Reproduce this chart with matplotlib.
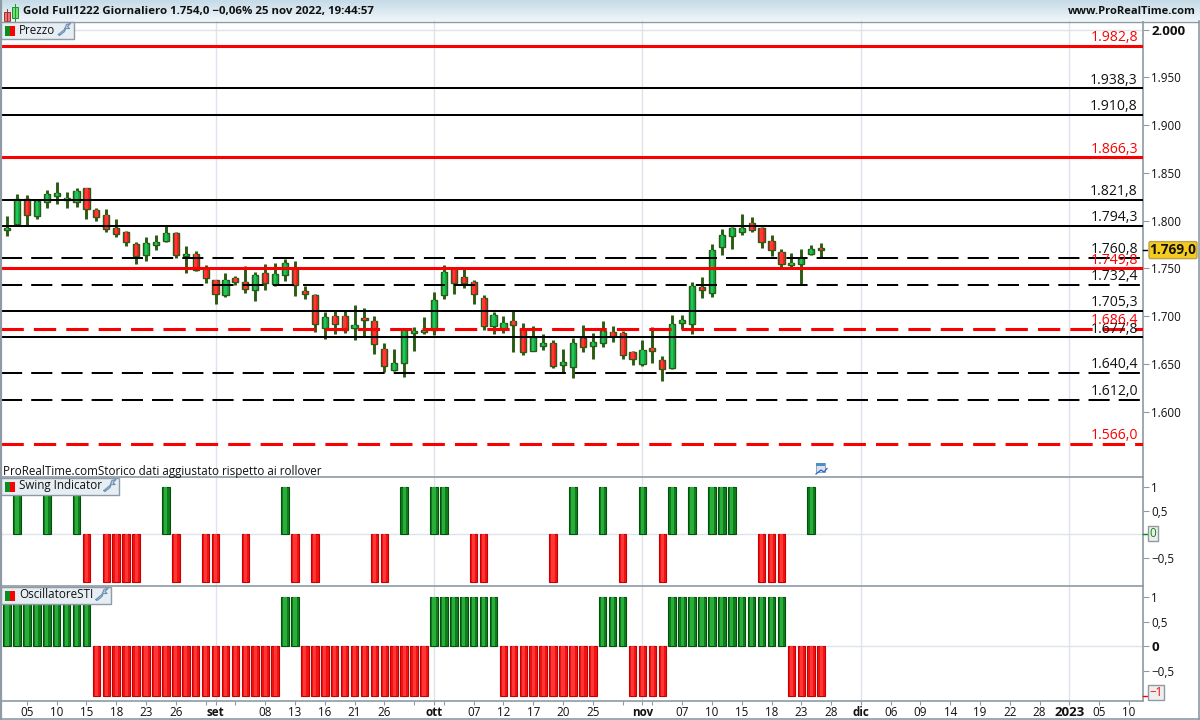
import numpy as np
import matplotlib
matplotlib.use("Agg")
import matplotlib.pyplot as plt
from matplotlib.patches import Rectangle, FancyBboxPatch
from matplotlib.ticker import FixedLocator, FixedFormatter

# candles, one value per trading day
opens = [1790.4, 1796.4, 1822.2, 1804.7, 1819.4, 1826.0, 1821.8, 1819.4, 1834.0, 1811.0,
         1805.8, 1792.2, 1788.0, 1775.4, 1763.9, 1774.7, 1778.6, 1786.9, 1763.2, 1765.0,
         1750.3, 1737.7, 1722.0, 1739.8, 1735.3, 1727.6, 1745.0, 1733.5, 1743.0, 1750.0,
         1725.8, 1721.6, 1687.4, 1699.6, 1699.6, 1687.8, 1697.6, 1694.4, 1665.1, 1643.8,
         1651.1, 1682.5, 1683.5, 1685.3, 1722.0, 1750.0, 1740.8, 1735.6, 1718.8, 1689.9,
         1687.8, 1694.8, 1686.0, 1663.4, 1669.0, 1671.4, 1649.0, 1646.9, 1677.0, 1669.0,
         1672.1, 1683.0, 1681.9, 1662.0, 1649.8, 1666.2, 1653.6, 1645.6, 1693.0, 1692.0,
         1730.0, 1724.5, 1772.6, 1784.2, 1788.3, 1797.1, 1791.8, 1778.2, 1766.7, 1753.8,
         1754.8, 1765.3, 1770.9]
closes = [1792.2, 1822.2, 1806.1, 1820.1, 1827.8, 1828.8, 1823.2, 1830.9, 1812.1, 1804.0,
          1791.1, 1785.9, 1777.5, 1762.9, 1776.5, 1777.5, 1786.9, 1763.9, 1765.0, 1748.2,
          1739.8, 1723.1, 1737.7, 1736.0, 1728.0, 1743.0, 1735.0, 1744.0, 1755.5, 1732.1,
          1723.4, 1692.0, 1698.6, 1692.0, 1685.7, 1690.2, 1695.5, 1670.3, 1648.0, 1650.4,
          1685.3, 1684.3, 1685.0, 1716.4, 1746.1, 1734.9, 1734.9, 1723.4, 1689.5, 1701.1,
          1692.7, 1690.9, 1662.3, 1677.7, 1671.4, 1647.6, 1651.5, 1671.4, 1667.9, 1672.5,
          1684.0, 1679.1, 1659.6, 1655.4, 1664.0, 1663.7, 1644.9, 1691.3, 1695.5, 1731.1,
          1727.3, 1768.8, 1784.5, 1791.8, 1791.8, 1790.4, 1777.9, 1768.8, 1754.1, 1755.5,
          1760.4, 1769.8, 1768.8]
highs = [1804.7, 1827.8, 1826.7, 1822.2, 1832.0, 1840.3, 1829.9, 1834.0, 1834.0, 1813.1,
         1812.0, 1801.6, 1789.0, 1777.5, 1782.7, 1784.8, 1794.3, 1788.0, 1773.3, 1768.1,
         1753.4, 1737.7, 1745.0, 1741.9, 1752.4, 1746.1, 1754.5, 1755.5, 1759.7, 1757.6,
         1731.4, 1723.0, 1704.2, 1705.2, 1705.2, 1711.5, 1708.4, 1700.0, 1671.7, 1665.4,
         1685.3, 1688.5, 1699.0, 1725.1, 1753.4, 1750.0, 1748.9, 1737.7, 1722.0, 1704.2,
         1700.0, 1705.2, 1692.7, 1689.5, 1681.1, 1674.9, 1665.4, 1677.0, 1690.6, 1682.2,
         1694.8, 1689.6, 1684.3, 1663.4, 1674.9, 1688.5, 1658.2, 1701.1, 1701.1, 1735.6,
         1740.9, 1775.4, 1791.1, 1793.2, 1806.8, 1803.7, 1793.2, 1784.9, 1770.2, 1766.0,
         1770.2, 1774.4, 1776.5]
lows = [1783.8, 1795.3, 1795.3, 1801.6, 1813.1, 1817.3, 1813.1, 1814.2, 1801.6, 1799.5,
        1788.0, 1782.7, 1773.3, 1754.5, 1757.6, 1769.1, 1777.5, 1760.8, 1745.0, 1747.1,
        1734.6, 1712.6, 1719.9, 1732.5, 1724.1, 1715.7, 1727.3, 1731.4, 1736.7, 1720.9,
        1717.8, 1683.2, 1675.9, 1681.1, 1682.2, 1674.9, 1678.0, 1660.2, 1641.4, 1642.4,
        1636.1, 1663.4, 1681.1, 1680.1, 1717.8, 1723.0, 1729.3, 1712.6, 1685.3, 1681.1,
        1682.2, 1662.3, 1659.2, 1663.4, 1664.4, 1645.6, 1640.3, 1635.0, 1662.3, 1655.0,
        1667.6, 1672.8, 1655.0, 1648.8, 1647.7, 1650.8, 1632.0, 1644.6, 1686.4, 1681.2,
        1718.9, 1720.0, 1763.9, 1770.2, 1784.9, 1788.0, 1771.2, 1762.9, 1751.4, 1750.3,
        1733.6, 1763.9, 1761.5]

# support / resistance levels
black_solid = [1938.3, 1910.8, 1821.8, 1794.3, 1705.3, 1677.8]
black_dashed = [1760.8, 1732.4, 1640.4, 1612.0]
red_solid = [1982.8, 1866.3, 1749.8]
red_dashed = [1686.4, 1566.0]

# indicators: day index of the non zero bars
swing_up = [1, 4, 7, 16, 28, 40, 43, 44, 57, 60, 64, 67, 69, 71, 72, 73, 81]
swing_down = [8, 10, 11, 12, 13, 17, 20, 21, 24, 29, 31, 37, 38, 47, 48, 55, 62, 66, 76, 77, 78]
sti_up = [0, 1, 2, 3, 4, 5, 6, 7, 8, 28, 29, 43, 44, 45, 46, 47, 48, 49, 60, 61, 62,
          67, 68, 69, 70, 71, 72, 73, 74, 75, 76, 77, 78]
sti_down = [9, 10, 11, 12, 13, 14, 15, 16, 17, 18, 19, 20, 21, 22, 23, 24, 25, 26, 27,
            30, 31, 32, 33, 34, 35, 36, 37, 38, 39, 40, 41, 42,
            50, 51, 52, 53, 54, 55, 56, 57, 58, 59, 63, 64, 65, 66, 79, 80, 81, 82]

# axis labels
x_tick_pos = [2, 5, 8, 11, 14, 17, 20, 21, 23, 26, 29, 32, 35, 38, 41, 43, 44, 47, 50, 53, 56, 59,
              62, 64, 65, 68, 71, 74, 77, 80, 83, 86, 89, 92, 95, 98, 101, 104, 107, 110, 113]
x_tick_txt = ['05', '10', '15', '18', '23', '26', '', 'set', '', '08', '13', '16', '21', '26', '',
              'ott', '', '07', '12', '17', '20', '25', '', 'nov', '', '07', '10', '15', '18', '23',
              '28', 'dic', '06', '09', '14', '19', '22', '28', '2023', '05', '10']
month_pos = [21, 43, 64, 86, 107]
price_ticks = [2000, 1950, 1900, 1850, 1800, 1750, 1700, 1650, 1600]
price_txt = ['2.000', '1.950', '1.900', '1.850', '1.800', '1.750', '1.700', '1.650', '1.600']
last_price = 1769.0

W, H = 1200, 720
GRID = '#dfe2ea'
BORDER = '#8e9aa4'
WICK = '#2b5a12'
FONT = 'Open Sans'
plt.rcParams['font.family'] = FONT

fig = plt.figure(figsize=(W / 100, H / 100), dpi=100, facecolor='white')


def add_panel(top, bottom):
    ax = fig.add_axes([1 / W, 1 - bottom / H, (1143 - 1) / W, (bottom - top) / H])
    ax.set_xlim(-0.61, 114.42)
    ax.yaxis.tick_right()
    for s in ('left', 'top', 'bottom'):
        ax.spines[s].set_visible(False)
    ax.spines['right'].set_color(BORDER)
    ax.spines['right'].set_linewidth(1.2)
    ax.tick_params(axis='y', length=4, width=0.8, color=BORDER, pad=2, labelsize=8.4, labelcolor='#111111')
    ax.set_xticks([])
    for m in month_pos:
        ax.axvline(m, color=GRID, lw=1, zorder=0)
    return ax


def signal_bars(ax, up, down):
    # darker bar with a lighter strip in the middle, like the shaded bars of the platform
    ax.bar(up, 1, width=0.76, color='#0f7d1c', edgecolor='#06500f', linewidth=0.8, zorder=3)
    ax.bar(up, 1, width=0.32, color='#2aae3a', linewidth=0, zorder=4)
    ax.bar(down, -1, width=0.76, color='#f21212', edgecolor='#c40000', linewidth=0.8, zorder=3)
    ax.bar(down, -1, width=0.32, color='#ff3636', linewidth=0, zorder=4)


price_ax = add_panel(21, 477)
swing_ax = add_panel(477, 586)
sti_ax = add_panel(586, 700.7)

# price panel
price_ax.set_ylim(1531.5, 2008.9)
price_ax.set_yticks(price_ticks, price_txt)
price_ax.get_yticklabels()[0].set_fontweight('bold')
price_ax.get_yticklabels()[0].set_fontsize(9.6)
price_ax.axhline(2000, color=GRID, lw=1, zorder=0)

days = np.arange(len(opens))
price_ax.vlines(days, lows, highs, color=WICK, lw=2.1, zorder=2)
body_low = np.minimum(opens, closes)
body_h = np.abs(np.array(closes) - np.array(opens))
colors = ['#12ae45' if c >= o else '#fb1c20' for o, c in zip(opens, closes)]
inner = ['#22c45c' if c >= o else '#ff3838' for o, c in zip(opens, closes)]
price_ax.bar(days, body_h, bottom=body_low, width=0.62, color=colors, edgecolor=WICK, linewidth=1.0, zorder=3)
price_ax.bar(days, body_h, bottom=body_low, width=0.24, color=inner, linewidth=0, zorder=3)

for v in black_solid:
    price_ax.axhline(v, color='black', lw=1.45, zorder=4)
for v in black_dashed:
    price_ax.axhline(v, color='black', lw=1.45, dashes=(10.5, 4.5), dash_capstyle='butt', zorder=4)
for v in red_solid:
    price_ax.axhline(v, color='#fb0000', lw=2.2, zorder=5)
for v in red_dashed:
    price_ax.axhline(v, color='#fb0000', lw=2.2, dashes=(7.3, 3.3), dash_capstyle='butt', zorder=5)

trans = price_ax.get_yaxis_transform()
for v in black_solid + black_dashed:
    price_ax.text(0.9955, v + 0.7, f'{v:,.1f}'.replace(',', '#').replace('.', ',').replace('#', '.'),
                  transform=trans, ha='right', va='bottom', fontsize=10.1, color='#111111', zorder=6)
for v in red_solid + red_dashed:
    price_ax.text(0.9955, v + 0.7, f'{v:,.1f}'.replace(',', '#').replace('.', ',').replace('#', '.'),
                  transform=trans, ha='right', va='bottom', fontsize=10.1, color='#fb0000', zorder=6)

# swing panel
swing_ax.set_ylim(-1.088, 1.208)
swing_ax.set_yticks([1, 0.5, 0, -0.5], ['1', '0,5', '', '\u22120,5'])
swing_ax.axhline(0, color=GRID, lw=1, zorder=0)
signal_bars(swing_ax, swing_up, swing_down)

# sti panel
sti_ax.set_ylim(-1.105, 1.22)
sti_ax.set_yticks([1, 0.5, 0, -0.5], ['1', '0,5', '0', '\u22120,5'])
sti_ax.get_yticklabels()[2].set_fontweight('bold')
sti_ax.get_yticklabels()[2].set_fontsize(9.6)
sti_ax.axhline(0, color=GRID, lw=1, zorder=0)
signal_bars(sti_ax, sti_up, sti_down)

sti_ax.xaxis.set_major_locator(FixedLocator(x_tick_pos))
sti_ax.xaxis.set_major_formatter(FixedFormatter(x_tick_txt))
sti_ax.spines['bottom'].set_visible(True)
sti_ax.spines['bottom'].set_color(BORDER)
sti_ax.spines['bottom'].set_linewidth(1.2)
sti_ax.tick_params(axis='x', length=3, width=0.8, color=BORDER, pad=1, labelsize=8.4, labelcolor='#111111')
for lab, txt in zip(sti_ax.get_xticklabels(), x_tick_txt):
    if txt in ('set', 'ott', 'nov', 'dic', '2023'):
        lab.set_fontweight('bold')
    if txt == '2023':
        lab.set_fontsize(9.6)

# decorations in pixel coordinates
deco = fig.add_axes([0, 0, 1, 1], zorder=10)
deco.set_xlim(0, W)
deco.set_ylim(H, 0)
deco.axis('off')
deco.patch.set_alpha(0)

grad = np.linspace(0, 1, 21).reshape(-1, 1)
deco.imshow(grad, extent=(0, W, 21, 0), aspect='auto', zorder=0,
            cmap=matplotlib.colors.LinearSegmentedColormap.from_list('hdr', ['#c6dbe8', '#eef5f9']))
deco.set_xlim(0, W)
deco.set_ylim(H, 0)
deco.plot([0, W], [21.5, 21.5], color=BORDER, lw=1)
deco.plot([1, 1143], [477, 477], color=BORDER, lw=1.2)
deco.plot([1, 1143], [586, 586], color=BORDER, lw=1.2)
deco.plot([0.7, 0.7], [0, H], color=BORDER, lw=1.6)
deco.plot([0, W], [719.3, 719.3], color=BORDER, lw=1.2)
deco.plot([1198.5, 1198.5], [21, H], color=BORDER, lw=1.2)

# header
deco.add_patch(Rectangle((3.5, 12), 6, 9, fc='#f07070', ec='#a03030', lw=0.7))
deco.plot([6.5, 6.5], [9, 22], color='#a03030', lw=0.7)
deco.add_patch(Rectangle((11.5, 7), 6, 11, fc='#70e070', ec='#209030', lw=0.7))
deco.plot([14.5, 14.5], [4, 21], color='#209030', lw=0.7)
deco.text(23, 11.5, 'Gold Full1222 Giornaliero 1.754,0 \u22120,06% 25 nov 2022, 19:44:57',
          fontsize=8.25, fontweight='bold', va='center', ha='left', color='#111111')
deco.text(1196, 11.5, 'www.ProRealTime.com', fontsize=8.0, fontweight='bold', va='center', ha='right', color='#111111')
deco.text(3, 471, 'ProRealTime.comStorico dati aggiustato rispetto ai rollover', fontsize=8.35,
          va='center', ha='left', color='#111111')


def panel_tag(top, right, label):
    deco.add_patch(Rectangle((1, top), right - 1, 17, fc='#e7eef3', ec=BORDER, lw=1, zorder=5))
    deco.add_patch(Rectangle((5, top + 4), 5, 10, fc='#0f8a1e', lw=0, zorder=6))
    deco.add_patch(Rectangle((10, top + 4), 5, 10, fc='#fb0000', lw=0, zorder=6))
    deco.text(19, top + 8.5, label, fontsize=8.4, va='center', ha='left', color='#111111', zorder=6)
    # wrench icon
    wx, wy = right - 15, top + 13
    deco.plot([wx, wx + 6, wx + 8, wx + 12, wx + 9, wx + 11, wx + 7, wx + 6, wx + 1, wx],
              [wy, wy - 5, wy - 10, wy - 11, wy - 8, wy - 6, wy - 6, wy - 3, wy + 1, wy],
              color='#6f93b5', lw=0.9, zorder=6)


panel_tag(21.5, 73.5, 'Prezzo')
panel_tag(477.5, 119, 'Swing Indicator')
panel_tag(586.5, 111, 'OscillatoreSTI')

# value tags on the right
y_last = 29.5 + (2000 - last_price) * 0.955
deco.add_patch(FancyBboxPatch((1149, y_last - 8.5), 48, 17, boxstyle='round,pad=0,rounding_size=1.5',
                              fc='#f5cb20', ec='#b9a24a', lw=1, zorder=5))
deco.text(1173, y_last, '1.769,0', fontsize=9.8, fontweight='bold', ha='center', va='center', color='#111111', zorder=6)
deco.plot([1143, 1147], [y_last, y_last], color='black', lw=1)

deco.add_patch(Rectangle((1148, 526), 10, 15, fc='#eeeeee', ec=BORDER, lw=1, zorder=5))
deco.text(1153, 533.5, '0', fontsize=8.4, color='#0a8a10', ha='center', va='center', zorder=6)
deco.plot([1143, 1147], [534.3, 534.3], color='#0a8a10', lw=1)
deco.add_patch(Rectangle((1148, 685), 16, 15, fc='#eeeeee', ec=BORDER, lw=1, zorder=5))
deco.text(1156, 692.5, '\u22121', fontsize=8.4, color='#fb0000', ha='center', va='center', zorder=6)
deco.plot([1143, 1147], [695.5, 695.5], color='#fb0000', lw=1)

# small calendar icon
deco.add_patch(Rectangle((816, 463), 9, 9, fc='#dde3ea', ec='#7a9cc0', lw=0.6, zorder=5))
deco.add_patch(Rectangle((816, 463), 9, 2.5, fc='#4a90c8', lw=0, zorder=6))
deco.plot([816, 821, 824, 827], [474, 470, 472, 468.5], color='#2a62d0', lw=0.9, zorder=6)

fig.savefig('out.png', dpi=100)
